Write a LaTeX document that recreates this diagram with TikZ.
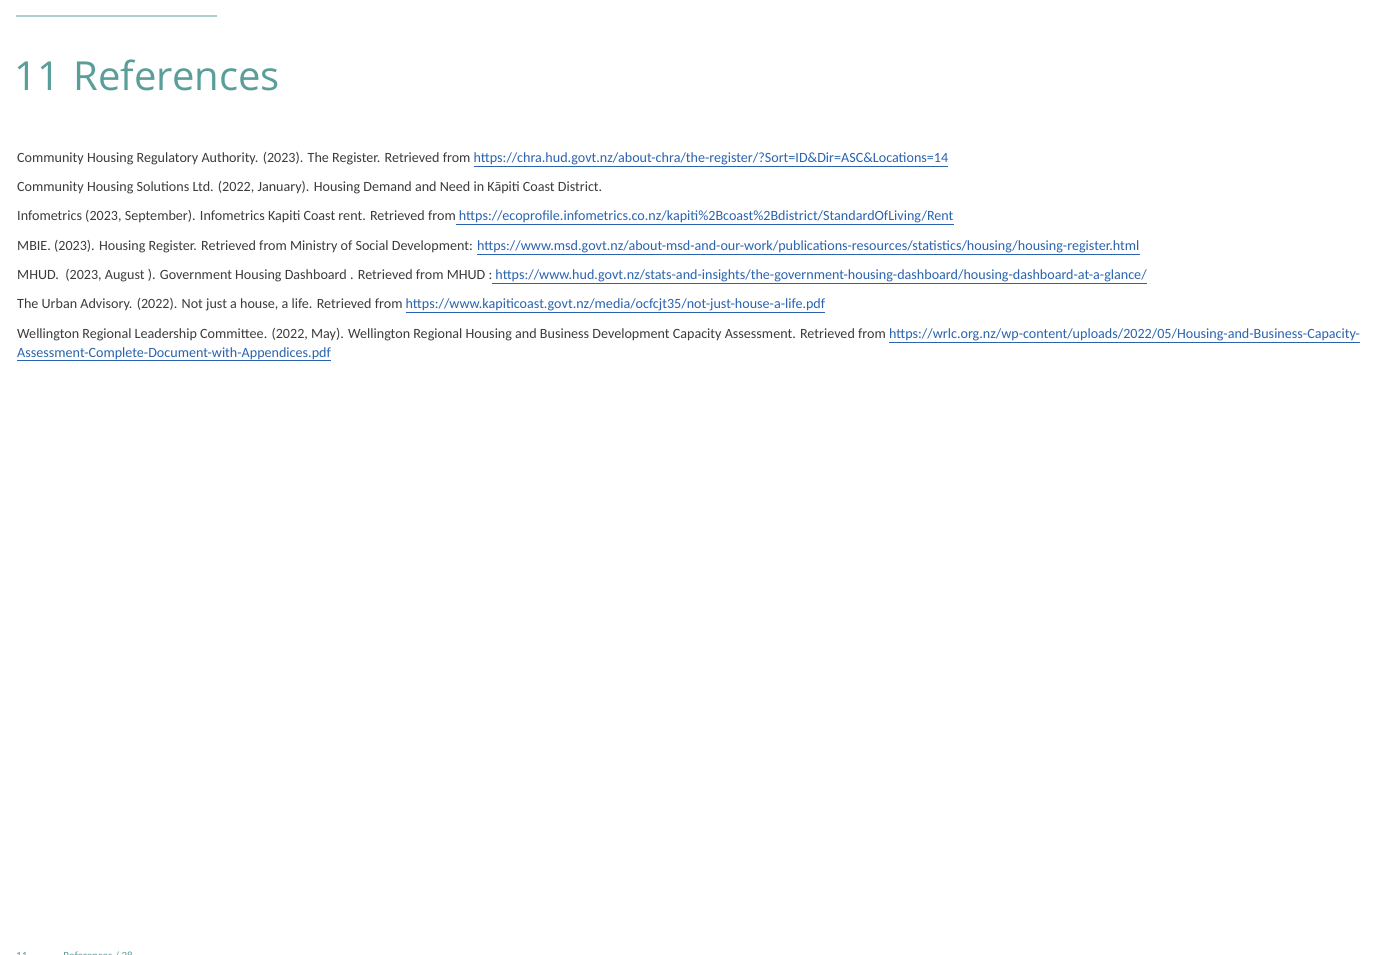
\documentclass[tikz,border=0pt]{standalone}
\usepackage{fontspec}
\setmainfont{Carlito}
\newfontfamily\titlefont{Open Sans}
\definecolor{teal1}{HTML}{5A9E9A}
\definecolor{teal2}{HTML}{A8D0CC}
\definecolor{txt}{HTML}{3C3C3C}
\definecolor{lnk}{HTML}{2A64B0}
\newcommand{\lk}[1]{\textcolor{lnk}{\underline{#1}}}
\begin{document}
\begin{tikzpicture}[x=1pt,y=1pt,
  ref/.style={anchor=base west,inner sep=0pt,font=\fontsize{14.1}{16}\selectfont,text=txt}]
\useasboundingbox (0,0) rectangle (1373,-955);
\fill[white] (0,0) rectangle (1373,-955);
\draw[teal2,line width=1.2pt] (16,-16) -- (217,-16);
\node[anchor=base west,inner sep=0pt,text=teal1,font=\titlefont\fontsize{40}{46}\selectfont] (title) at (14,-91) {11\,\,References};
\node[ref] (r1) at (17,-162) {Community Housing Regulatory Authority. (2023). The Register. Retrieved from \lk{https://chra.hud.govt.nz/about-chra/the-register/?Sort=ID\&Dir=ASC\&Locations=14}};
\node[ref] (r2) at (17,-191) {Community Housing Solutions Ltd. (2022, January). Housing Demand and Need in Kāpiti Coast District.};
\node[ref] (r3) at (17,-220) {Infometrics (2023, September). Infometrics Kapiti Coast rent. Retrieved from\lk{ https://ecoprofile.infometrics.co.nz/kapiti\%2Bcoast\%2Bdistrict/StandardOfLiving/Rent}};
\node[ref] (r4) at (17,-250) {MBIE. (2023). Housing Register. Retrieved from Ministry of Social Development: \lk{https://www.msd.govt.nz/about-msd-and-our-work/publications-resources/statistics/housing/housing-register.html}};
\node[ref] (r5) at (17,-279) {MHUD.\ \ (2023, August ). Government Housing Dashboard . Retrieved from MHUD :\lk{ https://www.hud.govt.nz/stats-and-insights/the-government-housing-dashboard/housing-dashboard-at-a-glance/}};
\node[ref] (r6) at (17,-308) {The Urban Advisory. (2022). Not just a house, a life. Retrieved from \lk{https://www.kapiticoast.govt.nz/media/ocfcjt35/not-just-house-a-life.pdf}};
\node[ref] (r7) at (17,-338) {Wellington Regional Leadership Committee. (2022, May). Wellington Regional Housing and Business Development Capacity Assessment. Retrieved from \lk{https://wrlc.org.nz/wp-content/uploads/2022/05/Housing-and-Business-Capacity-}};
\node[ref] (r7b) at (17,-357) {\lk{Assessment-Complete-Document-with-Appendices.pdf}};
\node[anchor=base west,inner sep=0pt,text=teal1,font=\fontsize{11}{13}\selectfont] (foot) at (16,-959) {11\hspace{36pt}References / 28};
\end{tikzpicture}
\end{document}
